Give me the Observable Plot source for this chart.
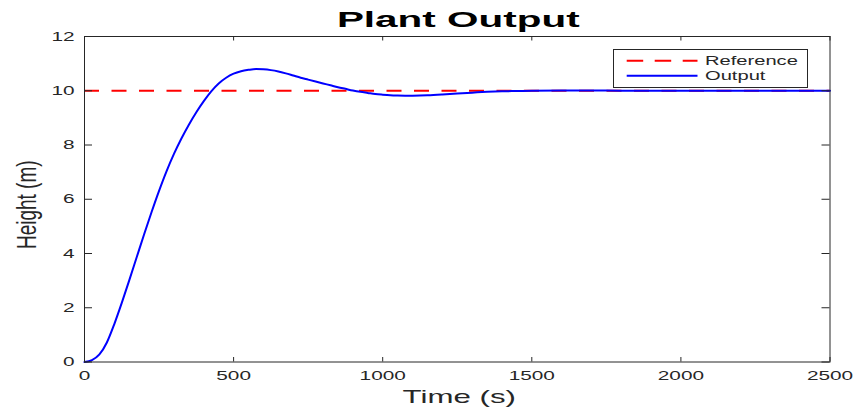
<!DOCTYPE html>
<html>
<head>
<meta charset="utf-8">
<script src="https://cdn.jsdelivr.net/npm/d3@7"></script>
<script src="https://cdn.jsdelivr.net/npm/@observablehq/plot@0.6"></script>
<style>
  html, body { margin: 0; padding: 0; background: #fff; }
  #wrap { position: relative; width: 857px; height: 412px; overflow: hidden; }
  #legend { position: absolute; left: 612px; top: 48px; }
  svg text { font-family: "Liberation Sans", Arial, Helvetica, sans-serif; }
</style>
</head>
<body>
<div id="wrap"></div>
<script>
// ---- data ----
const titleText = ["Plant Output"];
const xLabelText = ["Time (s)"];
const yLabelText = ["Height (m)"];
const seriesNames = ["Reference", "Output"];
const referenceValue = [10];
const time = [0, 25, 50, 75, 100, 125, 150, 175, 200, 225, 250, 275, 300, 325, 350, 375, 400, 425, 450, 475, 500, 525, 550, 575, 600, 625, 650, 675, 700, 725, 750, 775, 800, 825, 850, 875, 900, 925, 950, 975, 1000, 1025, 1050, 1075, 1100, 1125, 1150, 1200, 1250, 1300, 1350, 1400, 1450, 1500, 1600, 1700, 1800, 2000, 2500];
const height = [0, 0.07, 0.28, 0.72, 1.40, 2.18, 3.01, 3.86, 4.71, 5.53, 6.31, 7.03, 7.67, 8.24, 8.75, 9.21, 9.62, 9.98, 10.27, 10.48, 10.63, 10.72, 10.77, 10.8, 10.79, 10.76, 10.71, 10.64, 10.56, 10.48, 10.41, 10.34, 10.27, 10.2, 10.13, 10.07, 10.01, 9.96, 9.92, 9.88, 9.855, 9.835, 9.825, 9.82, 9.82, 9.823, 9.83, 9.86, 9.9, 9.93, 9.96, 9.98, 9.99, 10.0, 10.01, 10.01, 10.0, 10.0, 10.0];
const xTicks = [0, 500, 1000, 1500, 2000, 2500];
const yTicks = [0, 2, 4, 6, 8, 10, 12];

const output = time.map((t, i) => ({t, h: height[i]}));

const W = 857, H = 412;
const mL = 84, mR = 27.5, mT = 36, mB = 50.5;
const plotW = W - mL - mR, plotH = H - mT - mB;
const axisColor = "#262626";

const chart = Plot.plot({
  width: W,
  height: H,
  marginLeft: mL,
  marginRight: mR,
  marginTop: mT,
  marginBottom: mB,
  style: {fontFamily: '"Liberation Sans", Arial, Helvetica, sans-serif', background: "#fff"},
  x: {domain: [0, 2500], label: null},
  y: {domain: [0, 12], label: null},
  marks: [
    // reference line
    Plot.ruleY(referenceValue, {stroke: "#ff0000", strokeWidth: 2, strokeDasharray: "15,12.5"}),
    // output
    Plot.line(output, {x: "t", y: "h", stroke: "#0000ff", strokeWidth: 2, curve: "monotone-x"}),
    // box
    Plot.frame({stroke: axisColor, strokeWidth: 1}),
    // inward ticks on all four sides
    Plot.ruleX(xTicks, {stroke: axisColor, insetTop: plotH - 4.5}),
    Plot.ruleX(xTicks, {stroke: axisColor, insetBottom: plotH - 4.5}),
    Plot.ruleY(yTicks, {stroke: axisColor, insetRight: plotW - 8}),
    Plot.ruleY(yTicks, {stroke: axisColor, insetLeft: plotW - 8}),
    // tick labels
    Plot.axisX({ticks: xTicks, tickFormat: d => String(d), tickSize: 0, tickPadding: 9, fontSize: 13, fill: axisColor, label: null}),
    Plot.axisY({ticks: yTicks, tickFormat: d => String(d), tickSize: 0, tickPadding: 10, fontSize: 13, fill: axisColor, label: null}),
    // title and axis labels
    Plot.text(titleText, {text: d => d, frameAnchor: "top", textAnchor: "middle", lineAnchor: "middle",
      dx: 1, dy: -16.3, fontSize: 22, fontWeight: "bold", fill: "#000", className: "title-t"}),
    Plot.text(xLabelText, {text: d => d, frameAnchor: "bottom", textAnchor: "middle", lineAnchor: "middle",
      dx: 2, dy: 35.1, fontSize: 18.5, fill: axisColor, className: "xlab-t"}),
    Plot.text(yLabelText, {text: d => d, frameAnchor: "left", textAnchor: "middle", lineAnchor: "middle",
      rotate: -90, dx: -57.8, dy: 5.5, fontSize: 19, fill: axisColor, className: "ylab-t"})
  ]
});

// horizontal stretching of text (the reference figure is stretched horizontally)
function stretch(el, sx, sy) {
  const t = el.getAttribute("transform") || "";
  const xa = el.getAttribute("x");
  const x = xa && !/em$/.test(xa) ? parseFloat(xa) : 0;
  const ya = el.getAttribute("y");
  const y = ya && !/em$/.test(ya) ? parseFloat(ya) : 0;
  el.setAttribute("transform", `${t} translate(${x},${y}) scale(${sx},${sy}) translate(${-x},${-y})`);
}
chart.querySelectorAll('g[aria-label="x-axis tick label"] text, g[aria-label="y-axis tick label"] text')
  .forEach(el => stretch(el, 1.6, 1));
chart.querySelectorAll('.title-t text').forEach(el => stretch(el, 1.84, 1));
chart.querySelectorAll('.xlab-t text').forEach(el => stretch(el, 1.69, 1));
chart.querySelectorAll('.ylab-t text').forEach(el => stretch(el, 1, 1.45));

const wrap = document.getElementById("wrap");
wrap.appendChild(chart);

// legend
const colors = ["#ff0000", "#0000ff"];
const dashes = ["16.5,11.5", null];
const lg = d3.create("svg").attr("id", "legend").attr("width", 197).attr("height", 41);
lg.append("rect").attr("x", 1.5).attr("y", 1.5).attr("width", 194).attr("height", 38)
  .attr("fill", "#fff").attr("stroke", axisColor).attr("stroke-width", 1);
seriesNames.forEach((name, i) => {
  const cy = 12.7 + i * 15;
  lg.append("line").attr("x1", 14.7).attr("x2", 85.5).attr("y1", cy).attr("y2", cy)
    .attr("stroke", colors[i]).attr("stroke-width", 2)
    .attr("stroke-dasharray", dashes[i]);
  lg.append("text").attr("x", 0).attr("y", 0)
    .attr("transform", `translate(93,${cy + 4.6}) scale(1.55,1)`)
    .attr("font-size", 13).attr("fill", axisColor).text(name);
});
wrap.appendChild(lg.node());
</script>
</body>
</html>
